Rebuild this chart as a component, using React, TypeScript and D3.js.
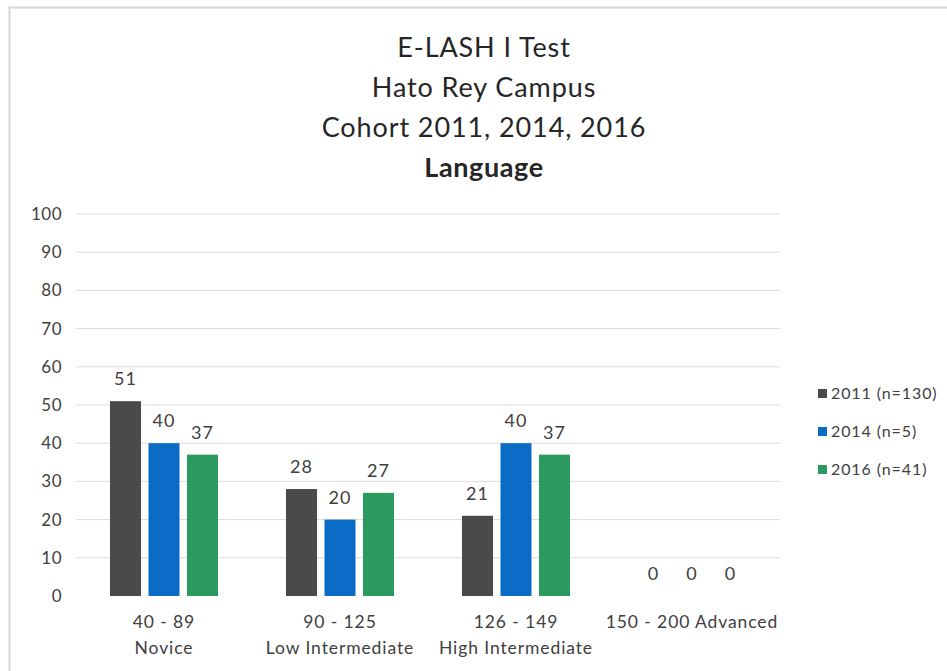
import React from "react";
import * as d3 from "d3";

const categories = ["40 - 89|Novice", "90 - 125|Low Intermediate", "126 - 149|High Intermediate", "150 - 200 Advanced"];
const seriesNames = ["2011 (n=130)", "2014 (n=5)", "2016 (n=41)"];
const seriesColors = ["#4a4a4c", "#0a6cc6", "#2a9a5e"];
const values2011 = [51, 28, 21, 0];
const values2014 = [40, 20, 40, 0];
const values2016 = [37, 27, 37, 0];
const yTicks = [0, 10, 20, 30, 40, 50, 60, 70, 80, 90, 100];
const titleLines = ["E-LASH I Test", "Hato Rey Campus", "Cohort 2011, 2014, 2016"];
const titleBold = "Language";

const W = 947, H = 671;
const FONT = "Lato, 'Open Sans', sans-serif";

export default function App() {
  const series = [values2011, values2014, values2016];
  const x = d3.scaleBand().domain(categories).range([76, 780]).paddingInner(0).paddingOuter(0);
  const y = d3.scaleLinear().domain([0, 100]).range([596, 214]);
  const barW = 31, step = 38.5;
  return (
    <div style={{ position: "absolute", left: 0, top: 0 }}>
      <svg width={W} height={H} style={{ display: "block", background: "#fff" }}>
        <rect x={9.5} y={7.5} width={W} height={H} fill="#fff" stroke="#d6d6d6" strokeWidth={2} />
        {titleLines.map((t, i) => (
          <text key={i} x={484} y={57 + i * 40} textAnchor="middle" fontFamily={FONT} fontSize={27} letterSpacing={0.9} fill="#262626">{t}</text>
        ))}
        <text x={484} y={177} textAnchor="middle" fontFamily={FONT} fontSize={27} letterSpacing={0.6} fontWeight="bold" fill="#262626">{titleBold}</text>
        {yTicks.map((t) => (
          <g key={t}>
            {t > 0 && <line x1={76} x2={780} y1={y(t)} y2={y(t)} stroke="#dcdcdc" strokeWidth={1} />}
            <text x={62} y={y(t) + 6} textAnchor="end" fontFamily={FONT} fontSize={17} letterSpacing={0.5} fill="#404040">{t}</text>
          </g>
        ))}
        {categories.map((c, ci) => {
          const cx = (x(c) as number) + x.bandwidth() / 2;
          const lines = c.split("|");
          return (
            <g key={c}>
              {series.map((s, si) => {
                const bx = cx + (si - 1) * step - barW / 2;
                const v = s[ci];
                return (
                  <g key={si}>
                    {v > 0 && <rect x={bx} y={y(v)} width={barW} height={y(0) - y(v)} fill={seriesColors[si]} />}
                    <text x={bx + barW / 2} y={y(v) - 16} textAnchor="middle" fontFamily={FONT} fontSize={18} letterSpacing={1} fill="#404040">{v}</text>
                  </g>
                );
              })}
              {lines.map((l, li) => (
                <text key={li} x={cx} y={628 + li * 26} textAnchor="middle" fontFamily={FONT} fontSize={17.5} letterSpacing={0.9} fill="#404040">{l}</text>
              ))}
            </g>
          );
        })}
        {seriesNames.map((n, i) => (
          <g key={n}>
            <rect x={818} y={389 + i * 38} width={9} height={9} fill={seriesColors[i]} />
            <text x={831} y={399 + i * 38} fontFamily={FONT} fontSize={16} letterSpacing={0.9} fill="#404040">{n}</text>
          </g>
        ))}
      </svg>
    </div>
  );
}
